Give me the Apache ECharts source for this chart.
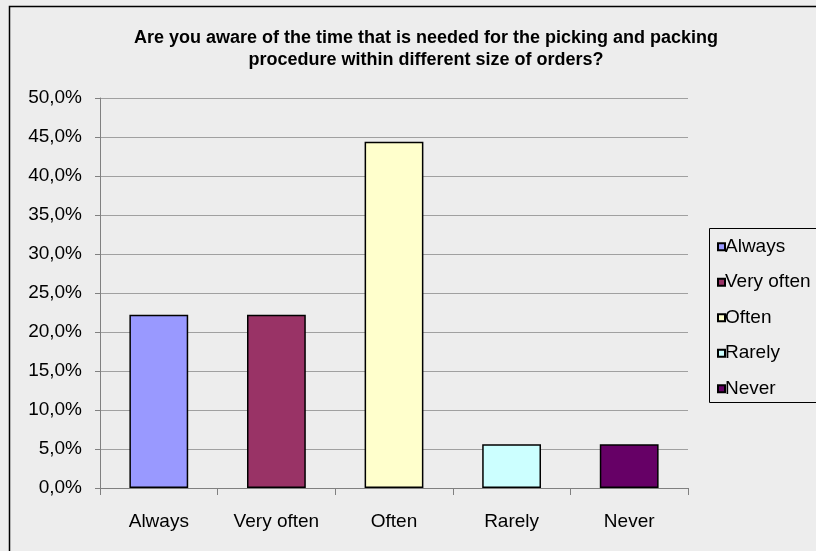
<!DOCTYPE html>
<html>
<head>
<meta charset="utf-8">
<script src="https://cdn.jsdelivr.net/npm/echarts@6/dist/echarts.min.js"></script>
<style>
html,body{margin:0;padding:0;background:#EDEDED;}
#c{width:816px;height:551px;}
</style>
</head>
<body>
<div id="c"></div>
<script>
var titleLines = ['Are you aware of the time that is needed for the picking and packing', 'procedure within different size of orders?'];
var categories = ['Always', 'Very often', 'Often', 'Rarely', 'Never'];
var values = [22.2, 22.2, 44.4, 5.6, 5.6];
var colors = ['#9999FF', '#993366', '#FFFFCC', '#CCFFFF', '#660066'];
var yMin = 0, yMax = 50, yStep = 5;

var series = categories.map(function (name, i) {
  var d = categories.map(function (c, j) { return j === i ? values[i] : '-'; });
  return {
    name: name,
    type: 'bar',
    stack: 'all',
    barWidth: '50%',
    data: d,
    itemStyle: { color: colors[i], borderColor: '#000', borderWidth: 1.5 }
  };
});

var FONT = '"Liberation Sans", Arial, sans-serif';
var chart = echarts.init(document.getElementById('c'), null, { renderer: 'canvas' });
chart.setOption({
  backgroundColor: '#EDEDED',
  animation: false,
  title: {
    text: titleLines.join('\n'),
    left: 421,
    top: 22,
    textAlign: 'center',
    textStyle: {
      fontFamily: FONT,
      fontWeight: 'bold',
      fontSize: 18,
      lineHeight: 22,
      color: '#000'
    }
  },
  grid: { left: 100, top: 98, width: 588, height: 390, containLabel: false },
  legend: {
    orient: 'vertical',
    left: 712,
    top: 231,
    itemWidth: 7,
    itemHeight: 7,
    itemGap: 14,
    icon: 'rect',
    textStyle: { fontFamily: FONT, fontSize: 19, lineHeight: 21.5, color: '#000', padding: [0, 0, 0, -5] },
    data: categories
  },
  xAxis: {
    type: 'category',
    data: categories,
    axisLine: { lineStyle: { color: '#808080', width: 1 } },
    axisTick: { show: true, alignWithLabel: false, length: 7, lineStyle: { color: '#808080' } },
    axisLabel: { margin: 24, fontFamily: FONT, fontSize: 19, color: '#000' }
  },
  yAxis: {
    type: 'value',
    min: yMin,
    max: yMax,
    interval: yStep,
    axisLine: { show: true, lineStyle: { color: '#808080', width: 1 } },
    axisTick: { show: true, length: 5, lineStyle: { color: '#808080' } },
    splitLine: { show: true, lineStyle: { color: '#A0A0A0', width: 1 } },
    axisLabel: {
      margin: 18,
      fontFamily: FONT,
      fontSize: 19,
      color: '#000',
      formatter: function (v) { return v.toFixed(1).replace('.', ',') + '%'; }
    }
  },
  graphic: [
    { type: 'rect', shape: { x: 9.5, y: 6.5, width: 820, height: 560 }, style: { fill: 'none', stroke: '#000', lineWidth: 1.5 }, z: 100 },
    { type: 'rect', shape: { x: 709.5, y: 228.5, width: 130, height: 174 }, style: { fill: 'none', stroke: '#000', lineWidth: 1 }, z: 100 }
  ],
  series: series
});
</script>
</body>
</html>
